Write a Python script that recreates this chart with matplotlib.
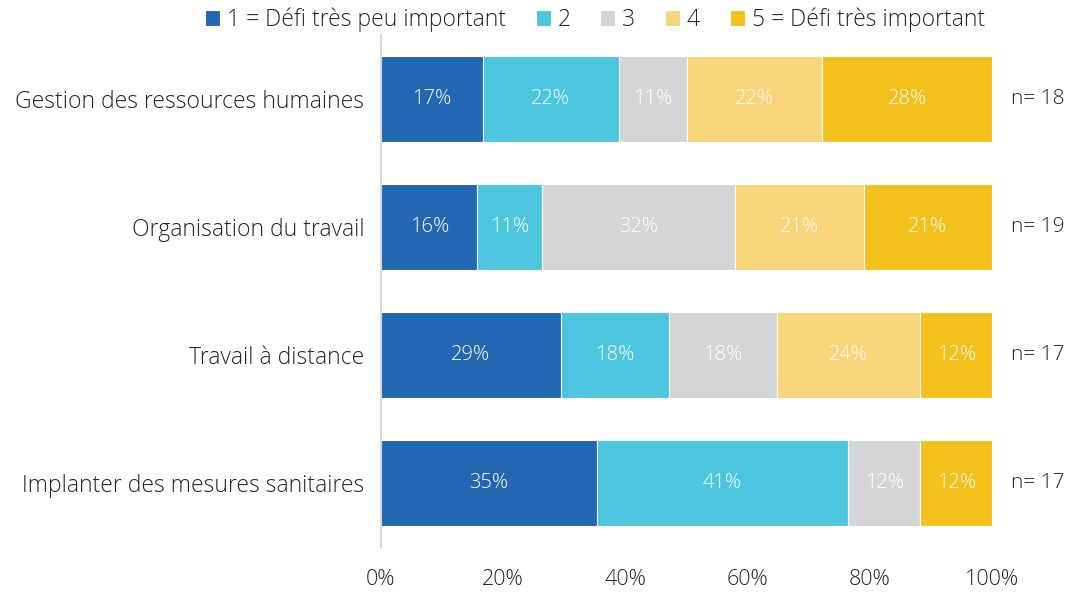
import matplotlib
matplotlib.use("Agg")
import matplotlib.pyplot as plt
import numpy as np

plt.rcParams['font.family'] = ['Open Sans', 'DejaVu Sans']
plt.rcParams['font.weight'] = 'light'

categories = ["Gestion des ressources humaines", "Organisation du travail",
              "Travail à distance", "Implanter des mesures sanitaires"]
levels = ["1 = Défi très peu important", "2", "3", "4", "5 = Défi très important"]
# nombre de réponses par niveau (1 à 5)
counts = {
    "Gestion des ressources humaines": [3, 4, 2, 4, 5],
    "Organisation du travail": [3, 2, 6, 4, 4],
    "Travail à distance": [5, 3, 3, 4, 2],
    "Implanter des mesures sanitaires": [6, 7, 2, 0, 2],
}
colors = ["#2167B2", "#4CC5DF", "#D4D5D7", "#F8D47A", "#F4C11C"]
text_col = "#262626"

fig = plt.figure(figsize=(10.67, 5.92), dpi=100)
ax = fig.add_axes([0.357, 0.076, 0.573, 0.865])

y = np.arange(len(categories))
left = np.zeros(len(categories))
for j, lev in enumerate(levels):
    vals = np.array([counts[c][j] / sum(counts[c]) * 100 for c in categories])
    ax.barh(y, vals, left=left, height=0.67, color=colors[j], edgecolor="white",
            linewidth=0.8, label=lev)
    for i, v in enumerate(vals):
        if v > 0:
            ax.text(left[i] + v / 2, y[i], f"{v:.0f}%", ha="center", va="center",
                    color="white", fontsize=14.5)
    left += vals

for i, c in enumerate(categories):
    ax.text(103, y[i], f"n= {sum(counts[c])}", ha="left", va="center",
            fontsize=15, color=text_col)

ax.set_xlim(0, 100)
ax.set_ylim(3.5, -0.5)
ax.set_yticks(y)
ax.set_yticklabels(categories, fontsize=16.5, color=text_col)
ax.set_xticks(np.arange(0, 101, 20))
ax.set_xticklabels([f"{t}%" for t in range(0, 101, 20)], fontsize=15.5, color=text_col)
ax.tick_params(axis="both", length=0)
ax.tick_params(axis="x", pad=16)
ax.tick_params(axis="y", pad=12)
for s in ["top", "right", "bottom"]:
    ax.spines[s].set_visible(False)
ax.spines["left"].set_color("#D0D0D0")
ax.spines["left"].set_linewidth(1.2)

ax.legend(loc="upper center", bbox_to_anchor=(0.35, 1.094), ncol=5, frameon=False,
          fontsize=16.5, handlelength=0.65, handleheight=0.65, handletextpad=0.3,
          columnspacing=1.3, labelcolor=text_col)

fig.savefig("out.png", dpi=100)
